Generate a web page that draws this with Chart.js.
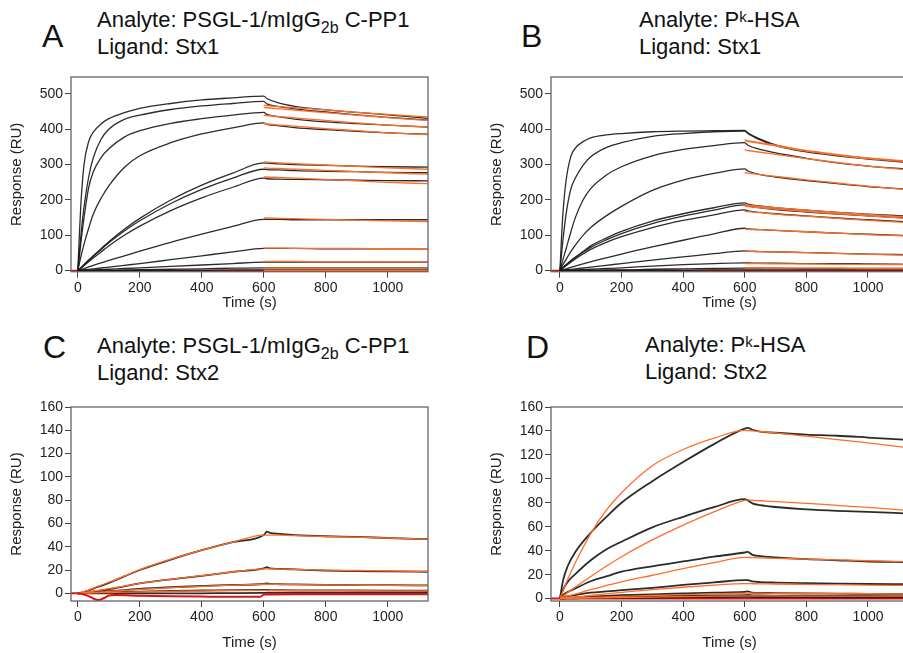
<!DOCTYPE html>
<html lang="en">
<head>
<meta charset="UTF-8">
<title>Sensorgrams</title>
<script src="https://cdn.jsdelivr.net/npm/chart.js"></script>
<style>
  html, body { margin: 0; padding: 0; background: #fff; overflow: hidden; width: 903px; height: 653px; }
  body { position: relative; font-family: "Liberation Sans", Arial, sans-serif; color: #111; }
  canvas { position: absolute; }
  .letter { position: absolute; font-size: 32px; line-height: 32px; }
  .head { position: absolute; font-size: 22px; line-height: 25px; white-space: nowrap; }
  .sub { font-size: 16px; position: relative; top: 6px; }
  .sup { font-size: 15px; position: relative; top: -5px; }
</style>
</head>
<body>
<div class="letter" style="left:42px;top:20px">A</div>
<div class="head" style="left:97px;top:7px">Analyte: PSGL-1/mIgG<span class="sub">2b</span> C-PP1<br>Ligand: Stx1</div>
<div class="letter" style="left:521px;top:20px">B</div>
<div class="head" style="left:639px;top:7px">Analyte: P<span class="sup">k</span>-HSA<br>Ligand: Stx1</div>
<div class="letter" style="left:43px;top:331px">C</div>
<div class="head" style="left:97px;top:333px">Analyte: PSGL-1/mIgG<span class="sub">2b</span> C-PP1<br>Ligand: Stx2</div>
<div class="letter" style="left:526px;top:331px">D</div>
<div class="head" style="left:645px;top:332px">Analyte: P<span class="sup">k</span>-HSA<br>Ligand: Stx2</div>

<canvas id="chartA" width="440" height="242" style="left:0px;top:70px"></canvas>
<canvas id="chartB" width="440" height="242" style="left:480px;top:70px"></canvas>
<canvas id="chartC" width="440" height="253" style="left:0px;top:400px"></canvas>
<canvas id="chartD" width="440" height="253" style="left:480px;top:400px"></canvas>

<script>
// times (s)
const T_ASSOC = [0, 5, 10, 20, 35, 50, 75, 100, 150, 200, 300, 400, 500, 600];
const T_DISSOC = [600, 610, 650, 700, 800, 900, 1000, 1130];
const T2_ASSOC = [0, 10, 25, 50, 100, 150, 200, 300, 400, 500, 600];
const T2_DISSOC = [600, 610, 625, 650, 700, 800, 900, 1000, 1130];
const RED_T = [-30, 1130];
const RED_V = [0, 0];

// panel A  (PSGL-1/mIgG2b C-PP1 on Stx1)
const A_DATA_ASSOC = [
  [0, 100, 190, 300, 365, 392, 415, 430, 447, 459, 473, 483, 489, 494],
  [0, 50, 100, 180, 265, 320, 372, 400, 428, 440, 456, 466, 473, 479],
  [0, 40, 80, 150, 235, 280, 320, 345, 378, 396, 417, 430, 440, 448],
  [0, 20, 40, 75, 120, 160, 205, 240, 292, 325, 362, 387, 404, 418],
  [0, 4, 8, 17, 30, 42, 62, 82, 117, 148, 200, 242, 276, 305],
  [0, 4, 8, 17, 29, 41, 60, 79, 112, 141, 190, 230, 262, 287],
  [0, 3, 7, 14, 25, 36, 53, 70, 100, 126, 170, 206, 236, 262],
  [0, 1.5, 3, 6, 10.5, 15, 22, 29, 42, 55, 80, 103, 125, 145],
  [0, 0.5, 1, 2, 3.5, 5, 7.5, 10, 15, 20, 31, 42, 53, 63],
  [0, 0, 0, 1, 1, 2, 3, 4, 6, 8, 12, 16, 20, 24],
  [0, 0, 0, 0, 0, 1, 1, 1, 2, 3, 4, 5, 7, 8],
  [0, 0, 0, 0, 0, 0, 0, 0, 0, 1, 1, 1, 2, 2]
];
const A_DATA_DISSOC = [
  [494, 487, 474, 465, 455, 448, 441, 431],
  [479, 472, 464, 458, 449, 441, 434, 426],
  [448, 442, 435, 429, 421, 416, 412, 406],
  [418, 414, 410, 405, 399, 394, 390, 386],
  [305, 304, 302, 300, 298, 296, 294, 293],
  [287, 286, 285, 283, 281, 280, 278, 277],
  [262, 260, 259, 258, 257, 256, 255, 254],
  [145, 145, 145, 144, 144, 144, 144, 144],
  [63, 63, 63, 63, 62, 62, 62, 62],
  [24, 24, 24, 24, 24, 24, 24, 24],
  [8, 8, 8, 8, 8, 8, 8, 8],
  [2, 2, 2, 2, 2, 2, 2, 2]
];
const A_FIT_DISSOC = [
  [468, 467, 464, 461, 455, 448, 442, 435],
  [462, 461, 458, 454, 447, 440, 433, 425],
  [440, 439, 436, 432, 425, 418, 412, 406],
  [416, 415, 412, 409, 402, 396, 390, 385],
  [308, 307, 305, 303, 299, 295, 291, 287],
  [291, 290, 289, 287, 284, 280, 277, 273],
  [266, 265, 264, 262, 258, 254, 250, 246],
  [149, 149, 148, 147, 145, 143, 141, 139],
  [64, 64, 64, 63, 63, 63, 62, 62],
  [26, 26, 26, 26, 25, 25, 25, 25],
  [7, 7, 7, 7, 7, 7, 7, 7],
  [1, 1, 1, 1, 1, 1, 1, 1]
];

// panel B  (Pk-HSA on Stx1)
const B_DATA_ASSOC = [
  [0, 90, 165, 255, 322, 347, 365, 376, 384, 388, 393, 395, 396, 397],
  [0, 45, 88, 160, 230, 262, 298, 322, 348, 362, 380, 388, 393, 395],
  [0, 16, 32, 62, 108, 150, 200, 232, 270, 294, 325, 343, 354, 362],
  [0, 9, 17, 32, 53, 72, 100, 122, 155, 182, 227, 256, 275, 288],
  [0, 4.5, 9, 17, 28, 38, 54, 70, 92, 111, 140, 161, 178, 192],
  [0, 4, 8, 16, 27, 37, 52, 66, 87, 105, 133, 154, 171, 186],
  [0, 3.5, 7, 14, 24, 33, 47, 60, 80, 96, 122, 142, 158, 172],
  [0, 1.2, 2.5, 5, 9, 13, 19, 25, 36, 47, 67, 86, 104, 120],
  [0, 0.5, 1, 2, 3.5, 5, 7.5, 10, 15, 20, 30, 39, 48, 56],
  [0, 0, 0, 1, 1, 2, 3, 4, 6, 8, 13, 17, 20, 22],
  [0, 0, 0, 0, 0, 1, 1, 1, 2, 2, 4, 5, 6, 7],
  [0, 0, 0, 0, 0, 0, 0, 0, 0, 1, 1, 1, 2, 2]
];
const B_DATA_DISSOC = [
  [397, 390, 372, 356, 338, 327, 318, 308],
  [395, 388, 370, 354, 336, 325, 316, 306],
  [362, 355, 343, 333, 318, 305, 296, 287],
  [288, 282, 272, 265, 255, 246, 238, 230],
  [192, 188, 183, 178, 171, 165, 160, 154],
  [186, 183, 178, 173, 166, 160, 155, 149],
  [172, 169, 165, 161, 155, 149, 144, 138],
  [120, 118, 116, 114, 110, 106, 103, 99],
  [56, 55, 54, 53, 51, 49, 47, 45],
  [22, 22, 21, 21, 20, 20, 19, 18],
  [7, 7, 7, 7, 6, 6, 6, 6],
  [2, 2, 2, 2, 2, 2, 2, 2]
];
const B_FIT_DISSOC = [
  [370, 368, 362, 355, 340, 329, 319, 310],
  [368, 366, 360, 353, 338, 327, 317, 308],
  [342, 340, 335, 329, 317, 306, 296, 285],
  [277, 276, 272, 267, 257, 248, 239, 229],
  [186, 185, 182, 178, 171, 165, 159, 152],
  [182, 181, 178, 174, 167, 161, 155, 148],
  [168, 167, 164, 160, 154, 148, 142, 136],
  [118, 117, 116, 114, 110, 106, 102, 98],
  [55, 55, 54, 53, 51, 49, 46, 44],
  [20, 20, 20, 19, 19, 18, 18, 17],
  [8, 8, 8, 7, 7, 7, 6, 6]
];

// panel C  (PSGL-1/mIgG2b C-PP1 on Stx2)
const C_T_ASSOC = [0, 25, 50, 100, 150, 200, 300, 400, 500, 600];
const C_T_DISSOC = [600, 610, 620, 650, 700, 800, 900, 1000, 1130];
const C_DATA_ASSOC = [
  [0, 1.5, 4, 9, 14.5, 20, 29, 37, 44, 50],
  [0, 0.5, 1.5, 3.5, 6, 8.5, 12, 15, 18.5, 21.5],
  [0, 0.3, 0.8, 1.8, 2.8, 3.8, 5.2, 6.3, 7.2, 8],
  [0, 0.2, 0.4, 0.8, 1.2, 1.5, 2, 2.4, 2.8, 3],
  [0, 0, 0, 0, 0, 0, 0, 0, 0.2, 0.3]
];
const C_DATA_DISSOC = [
  [50, 53, 52, 51, 50, 49, 48.5, 47.5, 46.5],
  [21.5, 22.5, 21.5, 21, 20.5, 19.5, 19, 18.8, 18.5],
  [8, 8.5, 8, 7.8, 7.6, 7.3, 7.1, 7, 6.8],
  [3, 3, 2.8, 2.7, 2.6, 2.5, 2.4, 2.3, 2.2],
  [0.5, 0.5, 0.5, 0.5, 0.5, 0.5, 0.5, 0.5, 0.5]
];
const C_FIT_ASSOC = [
  [0, 2, 4.5, 9.5, 14.8, 20.3, 29.3, 37, 44, 50],
  [0, 0.8, 1.8, 4, 6.2, 8.5, 12, 15.2, 18.3, 21],
  [0, 0.3, 0.8, 1.6, 2.5, 3.4, 4.8, 6, 7, 7.8],
  [0, 0.2, 0.4, 0.7, 1, 1.3, 1.7, 2.1, 2.4, 2.5]
];
const C_FIT_DISSOC = [
  [50, 50, 50, 50, 49.5, 48.8, 48.2, 47.5, 46.5],
  [21, 21, 21, 20.8, 20.5, 20, 19.6, 19.2, 18.8],
  [7.8, 7.8, 7.8, 7.7, 7.5, 7.2, 7, 6.8, 6.6],
  [2.5, 2.5, 2.5, 2.4, 2.4, 2.3, 2.2, 2.1, 2]
];
const C_RED_T = [-22, 0, 20, 40, 60, 70, 85, 100, 120, 200, 300, 400, 500, 590, 600, 700, 900, 1130];
const C_RED_V = [0, 0, -1, -3, -5.5, -5.7, -4, -2, -1.5, -2, -2.5, -2.8, -3, -3, -1, -0.8, -0.8, -0.8];

// panel D  (Pk-HSA on Stx2)
const D_DATA_ASSOC = [
  [0, 15, 27, 39, 55, 68, 80, 98, 114, 129, 142],
  [0, 7.5, 14, 20.5, 32, 41, 47.5, 59.5, 68.3, 76.3, 83],
  [0, 3, 5.5, 8.5, 14.5, 18.5, 22.5, 27, 31, 35, 38.5],
  [0, 1, 2, 3, 5, 6, 7, 9, 11.4, 13.5, 15.5],
  [0, 0.3, 0.6, 1, 1.8, 2.3, 2.8, 3.6, 4.3, 5, 5.5],
  [0, 0.2, 0.4, 0.6, 1, 1.3, 1.6, 2, 2.3, 2.6, 2.8],
  [0, 0.1, 0.2, 0.3, 0.5, 0.6, 0.7, 0.9, 1.1, 1.3, 1.4]
];
const D_DATA_DISSOC = [
  [142, 142.5, 141, 139.5, 138.5, 137, 136, 134.5, 132.5],
  [83, 82, 79.5, 78, 76.5, 74.5, 73.3, 72.5, 71],
  [38.5, 39, 36.5, 35.5, 34.5, 33, 32, 31, 30.5],
  [15.5, 15.5, 14.3, 13.8, 13.4, 12.9, 12.5, 12.2, 12],
  [5.5, 6, 5, 4.8, 4.6, 4.3, 4.1, 4, 3.8],
  [2.8, 3, 2.7, 2.6, 2.5, 2.4, 2.3, 2.2, 2.1],
  [1.4, 1.5, 1.3, 1.3, 1.2, 1.2, 1.1, 1.1, 1]
];
const D_FIT_ASSOC = [
  [0, 6.6, 16, 30, 54.3, 73.6, 88.4, 111, 124.5, 134, 140.5],
  [0, 2, 5, 9.6, 18.5, 27, 35, 49, 61.4, 72.5, 82],
  [0, 0.8, 2, 3.8, 7.5, 10.8, 14, 19.5, 25, 30, 34.5],
  [0, 0.3, 0.7, 1.3, 2.6, 4, 5.2, 7.5, 9.5, 11.2, 12.5],
  [0, 0.1, 0.3, 0.5, 1, 1.4, 1.8, 2.6, 3.3, 4, 4.6],
  [0, 0.05, 0.1, 0.2, 0.5, 0.7, 0.9, 1.3, 1.7, 2, 2.3]
];
const D_FIT_DISSOC = [
  [140.5, 140.3, 140, 139.5, 138.4, 135.6, 132.8, 130, 126],
  [82.5, 82.4, 82.1, 81.7, 81, 79.6, 77.8, 76.2, 73.6],
  [34.5, 34.4, 34.2, 34, 33.6, 33, 32.3, 31.6, 30.8],
  [12.5, 12.5, 12.4, 12.3, 12.2, 11.9, 11.6, 11.3, 11],
  [4.6, 4.6, 4.5, 4.5, 4.4, 4.3, 4.2, 4.1, 4],
  [2.3, 2.3, 2.3, 2.2, 2.2, 2.1, 2.1, 2, 2]
];

const BLACK = 'rgba(25,25,25,0.92)';
const ORANGE = 'rgb(255,110,40)';
const RED = 'rgb(215,20,20)';
const FONT = "'Liberation Sans', Arial, sans-serif";

function pts(times, vals) {
  return vals.map((v, i) => ({ x: times[i], y: v }));
}

// draws the full box around the plot area
const frame = {
  id: 'frame',
  afterDraw(chart) {
    const { ctx, chartArea: a } = chart;
    ctx.save();
    ctx.strokeStyle = '#666';
    ctx.lineWidth = 1.3;
    ctx.strokeRect(a.left, a.top, a.right - a.left, a.bottom - a.top);
    ctx.restore();
  }
};

function buildChart(id, p) {
  const ds = [];
  ds.push({
    data: pts(p.redT, p.redV), borderColor: RED, borderWidth: 2,
    order: p.redTop ? 0 : 9, cubicInterpolationMode: 'monotone'
  });
  p.dataAssoc.forEach((a, i) => {
    const d = p.dataDissoc[i];
    ds.push({
      data: pts(p.tA, a).concat(pts(p.tD, d).slice(1)),
      borderColor: BLACK, borderWidth: p.blackWidth, order: 3,
      cubicInterpolationMode: 'monotone'
    });
  });
  p.fitDissoc.forEach((d, i) => {
    let points = pts(p.tD, d);
    if (p.fitAssoc && p.fitAssoc[i]) points = pts(p.tA, p.fitAssoc[i]).concat(points.slice(1));
    ds.push({
      data: points, borderColor: ORANGE, borderWidth: 1.3, order: 2,
      cubicInterpolationMode: 'monotone'
    });
  });

  new Chart(document.getElementById(id), {
    type: 'line',
    data: { datasets: ds },
    options: {
      responsive: false,
      animation: false,
      events: [],
      layout: { padding: { top: 7, right: 12, left: 0, bottom: 0 } },
      plugins: { legend: { display: false }, tooltip: { enabled: false } },
      elements: { point: { radius: 0 } },
      scales: {
        x: {
          type: 'linear', min: p.xMin, max: 1130,
          ticks: { stepSize: 200, includeBounds: false, autoSkip: false, padding: 2, maxRotation: 0,
                   color: '#222', font: { family: FONT, size: 14 }, callback: v => String(v) },
          grid: { drawOnChartArea: false, tickLength: 6, tickColor: '#444' },
          border: { display: false },
          title: { display: true, text: 'Time (s)', color: '#222', font: { family: FONT, size: 15 }, padding: { top: 0, bottom: p.xTitlePad } },
          afterFit: s => { s.height = p.xHeight; s.paddingLeft = 0; s.paddingRight = 0; }
        },
        y: {
          type: 'linear', min: p.yMin, max: p.yMax,
          ticks: { stepSize: p.yStep, includeBounds: false, autoSkip: false, padding: 2,
                   color: '#222', font: { family: FONT, size: 14 }, callback: v => String(v) },
          grid: { drawOnChartArea: false, tickLength: 6, tickColor: '#444' },
          border: { display: false },
          title: { display: true, text: 'Response (RU)', color: '#222', font: { family: FONT, size: 15 }, padding: { top: 8, bottom: 0 } },
          afterFit: s => { s.width = 71; s.paddingTop = 0; s.paddingBottom = 0; }
        }
      }
    },
    plugins: [frame]
  });
}

buildChart('chartA', {
  tA: T_ASSOC, tD: T_DISSOC, dataAssoc: A_DATA_ASSOC, dataDissoc: A_DATA_DISSOC, fitDissoc: A_FIT_DISSOC,
  redT: RED_T, redV: RED_V, xMin: -22, yMin: -3, yMax: 548, yStep: 100, xHeight: 40.3, xTitlePad: 0, blackWidth: 1.3
});
buildChart('chartB', {
  tA: T_ASSOC, tD: T_DISSOC, dataAssoc: B_DATA_ASSOC, dataDissoc: B_DATA_DISSOC, fitDissoc: B_FIT_DISSOC,
  redT: RED_T, redV: RED_V, xMin: -29, yMin: -3, yMax: 548, yStep: 100, xHeight: 40.3, xTitlePad: 0, blackWidth: 1.3
});
buildChart('chartC', {
  tA: C_T_ASSOC, tD: C_T_DISSOC, dataAssoc: C_DATA_ASSOC, dataDissoc: C_DATA_DISSOC,
  fitAssoc: C_FIT_ASSOC, fitDissoc: C_FIT_DISSOC, redT: C_RED_T, redV: C_RED_V, redTop: true,
  xMin: -22, yMin: -6.6, yMax: 160, yStep: 20, xHeight: 52, xTitlePad: 1, blackWidth: 1.8
});
buildChart('chartD', {
  tA: T2_ASSOC, tD: T2_DISSOC, dataAssoc: D_DATA_ASSOC, dataDissoc: D_DATA_DISSOC,
  fitAssoc: D_FIT_ASSOC, fitDissoc: D_FIT_DISSOC, redT: RED_T, redV: RED_V,
  xMin: -29, yMin: -2, yMax: 160, yStep: 20, xHeight: 52, xTitlePad: 1, blackWidth: 1.8
});
</script>
</body>
</html>
